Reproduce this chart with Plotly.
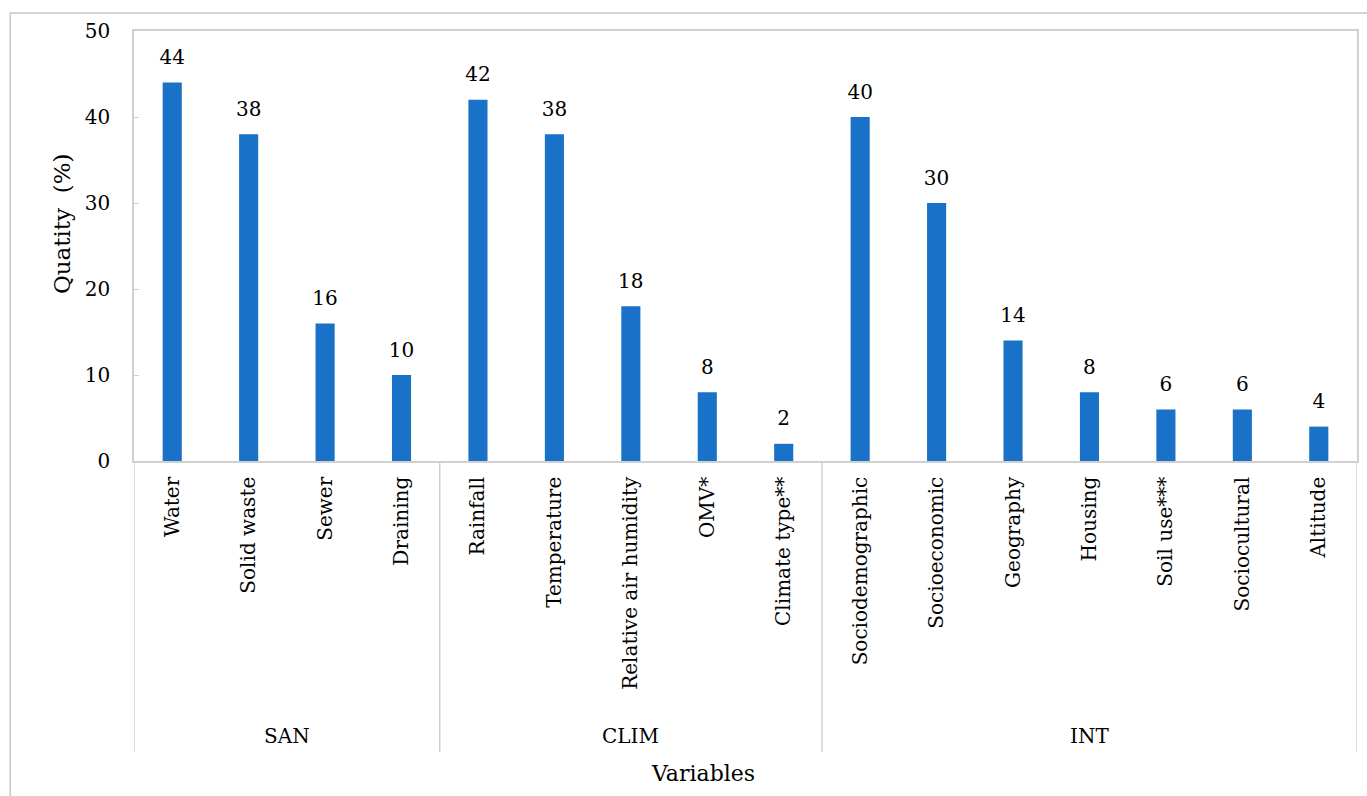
import plotly.graph_objects as go

# Variables grouped by theme, with share of studies (%) for each
groups = ["SAN", "CLIM", "INT"]
group_sizes = [4, 5, 7]
variables = [
    "Water", "Solid waste", "Sewer", "Draining",
    "Rainfall", "Temperature", "Relative air humidity", "OMV*", "Climate type**",
    "Sociodemographic", "Socioeconomic", "Geography", "Housing", "Soil use***",
    "Sociocultural", "Altitude",
]
quantity = [44, 38, 16, 10, 42, 38, 18, 8, 2, 40, 30, 14, 8, 6, 6, 4]

FONT = "DejaVu Serif"
FS = 20
GRID = "#d0d0d0"
BAR = "#1A72C8"

W, H = 1367, 796
ML, MR, MT, MB = 134, 8, 31, 335
PW, PH = W - ML - MR, H - MT - MB

xs = list(range(len(variables)))

fig = go.Figure()
fig.add_trace(go.Bar(
    x=xs,
    y=quantity,
    width=0.25,
    marker=dict(color=BAR, line=dict(width=0)),
    hoverinfo="skip",
))
# value labels floated above each bar
fig.add_trace(go.Scatter(
    x=xs,
    y=quantity,
    mode="markers+text",
    marker=dict(size=20, opacity=0),
    text=[str(v) for v in quantity],
    textposition="top center",
    textfont=dict(family=FONT, size=FS, color="#000000"),
    cliponaxis=False,
))

# group dividers below the category axis and group names
bottom_px = 752
y_bottom = (MT + PH - bottom_px) / PH
edges = [-0.5]
for n in group_sizes:
    edges.append(edges[-1] + n)
shapes = []
for e in edges:
    shapes.append(dict(type="line", xref="x", yref="paper", x0=e, x1=e,
                       y0=0, y1=y_bottom, line=dict(color=GRID, width=1.5)))

annotations = []
for g, a, b in zip(groups, edges[:-1], edges[1:]):
    annotations.append(dict(text=g, x=(a + b) / 2, xref="x",
                            y=(MT + PH - 736) / PH, yref="paper",
                            showarrow=False, yanchor="middle",
                            font=dict(family=FONT, size=FS, color="#000000")))

annotations.append(dict(text="Variables", x=(704 - ML) / PW, xref="paper",
                        y=(MT + PH - 773) / PH, yref="paper",
                        showarrow=False, yanchor="middle",
                        font=dict(family=FONT, size=FS + 2, color="#000000")))
annotations.append(dict(text="Quatity  (%)", x=(62 - ML) / PW, xref="paper",
                        y=(MT + PH - 224) / PH, yref="paper", textangle=-90,
                        showarrow=False, xanchor="center", yanchor="middle",
                        font=dict(family=FONT, size=FS + 3, color="#000000")))

# outer chart frame
shapes.append(dict(type="rect", xref="paper", yref="paper",
                   x0=(10 - ML) / PW, x1=1.2,
                   y0=-1.2, y1=(MT + PH - 13) / PH,
                   line=dict(color="#c8c8c8", width=1.5), layer="below"))

fig.update_layout(
    width=W, height=H,
    margin=dict(l=ML, r=MR, t=MT, b=MB),
    paper_bgcolor="white", plot_bgcolor="white",
    showlegend=False,
    font=dict(family=FONT, size=FS, color="#000000"),
    shapes=shapes,
    annotations=annotations,
    xaxis=dict(
        range=[-0.5, len(variables) - 0.5],
        tickmode="array", tickvals=xs, ticktext=variables,
        tickangle=-90, ticks="", showgrid=False, zeroline=False,
        showline=True, mirror=True, linecolor=GRID, linewidth=1.5,
        tickfont=dict(family=FONT, size=FS, color="#000000"),
        ticklabelstandoff=6,
    ),
    yaxis=dict(
        range=[0, 50], tickmode="array", tickvals=[0, 10, 20, 30, 40, 50],
        ticks="inside", ticklen=5, tickcolor=GRID, showgrid=False,
        zeroline=False, showline=True, mirror=True, linecolor=GRID,
        linewidth=1.5, ticklabelstandoff=18,
        tickfont=dict(family=FONT, size=FS, color="#000000"),
    ),
)

fig.write_html("out.html")
